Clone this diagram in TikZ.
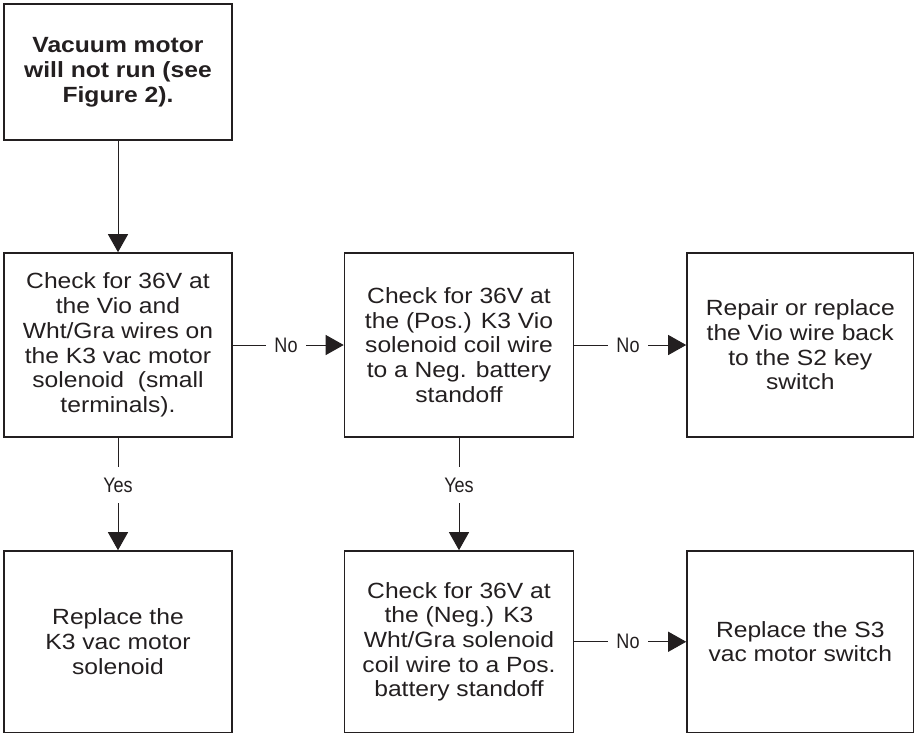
\documentclass[tikz,border=0pt]{standalone}
\usepackage{fontspec}
\setmainfont{Liberation Sans}
\newfontfamily\boxfont[FakeStretch=1.12]{Liberation Sans}
\newfontfamily\labfont[FakeStretch=0.86]{Liberation Sans}
\usetikzlibrary{arrows.meta}
\definecolor{ink}{HTML}{231F20}
\begin{document}
\begin{tikzpicture}[x=1pt,y=1pt,
  box/.style={draw=ink, line width=1.6pt, rectangle, inner sep=0pt, align=center,
    font=\boxfont\fontsize{22}{24.7}\selectfont, text=ink},
  titlebox/.style={box, font=\boxfont\bfseries\fontsize{22}{25}\selectfont},
  conn/.style={draw=ink, line width=1pt, -{Triangle[width=20pt,length=18pt]}},
  lab/.style={fill=white, font=\labfont\fontsize{21}{22}\selectfont, text=ink,
    inner xsep=8.5pt, inner ysep=10.5pt}]
\useasboundingbox (0,0) rectangle (915,-734);
\node[titlebox, minimum width=228pt, minimum height=136pt] (top) at (118,-72)
  {Vacuum motor\\will not run (see\\Figure 2).};
\node[box, minimum width=228pt, minimum height=184pt] (A) at (118,-345)
  {Check for 36V at\\the Vio and\\Wht/Gra wires on\\the K3 vac motor\\solenoid~ (small\\terminals).};
\node[box, minimum width=229pt, minimum height=184pt] (B) at (459,-345)
  {Check for 36V at\\the (Pos.) K3 Vio\\solenoid coil wire\\to a Neg. battery\\standoff};
\node[box, minimum width=226.5pt, minimum height=184pt] (C) at (800.25,-345)
  {Repair or replace\\the Vio wire back\\to the S2 key\\switch};
\node[box, minimum width=228pt, minimum height=181.5pt] (D) at (118,-641.75)
  {Replace the\\K3 vac motor\\solenoid};
\node[box, minimum width=229pt, minimum height=181.5pt] (E) at (459,-641.75)
  {Check for 36V at\\the (Neg.) K3\\Wht/Gra solenoid\\coil wire to a Pos.\\battery standoff};
\node[box, minimum width=226.5pt, minimum height=181.5pt] (F) at (800.25,-641.75)
  {Replace the S3\\vac motor switch};
\draw[conn] (top) -- (A);
\draw[conn] (A) -- node[lab, pos=0.48] {No} (B);
\draw[conn] (B) -- node[lab, pos=0.48] {No} (C);
\draw[conn] (A) -- node[lab, pos=0.42] {Yes} (D);
\draw[conn] (B) -- node[lab, pos=0.42] {Yes} (E);
\draw[conn] (E) -- node[lab, pos=0.48] {No} (F);
\end{tikzpicture}
\end{document}
